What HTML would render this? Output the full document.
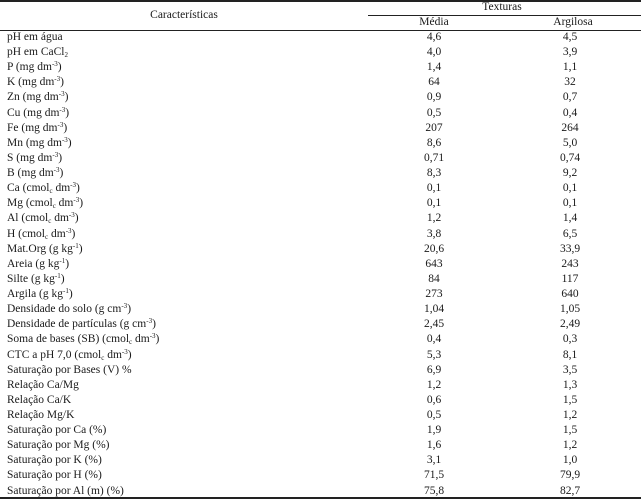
<!DOCTYPE html>
<html><head><meta charset="utf-8"><style>
html,body{margin:0;padding:0;background:#fff;}
body{width:641px;height:500px;position:relative;overflow:hidden;font-family:"Liberation Serif",serif;font-size:11.5px;color:#1a1a1a;}
.l{position:absolute;left:0;background:#222;}
.r{position:absolute;left:0;width:641px;height:15.12px;line-height:15.12px;white-space:nowrap;}
.c0{position:absolute;left:7px;}
.c1{position:absolute;left:384px;width:100px;text-align:center;}
.c2{position:absolute;left:520px;width:100px;text-align:center;}
sup,sub{font-size:7px;line-height:0;}
sup{vertical-align:4px;}
sub{vertical-align:-2px;}
.h{position:absolute;white-space:nowrap;text-align:center;}
</style></head><body>
<div class="l" style="top:0;width:641px;height:1.5px;"></div>
<div class="l" style="top:14.5px;left:368px;width:273px;height:1px;"></div>
<div class="l" style="top:29.5px;width:641px;height:1px;"></div>
<div class="l" style="top:497px;width:641px;height:2px;"></div>
<div class="h" style="left:84px;width:200px;top:7px;line-height:16px;">Características</div>
<div class="h" style="left:452px;width:100px;top:0;line-height:15px;">Texturas</div>
<div class="h" style="left:384px;width:100px;top:15px;line-height:15px;">Média</div>
<div class="h" style="left:523px;width:100px;top:15px;line-height:15px;">Argilosa</div>

<div class="r" style="top:30px"><span class="c0">pH em água</span><span class="c1">4,6</span><span class="c2">4,5</span></div>
<div class="r" style="top:45.12px"><span class="c0">pH em CaCl<sub>2</sub></span><span class="c1">4,0</span><span class="c2">3,9</span></div>
<div class="r" style="top:60.24px"><span class="c0">P (mg dm<sup>-3</sup>)</span><span class="c1">1,4</span><span class="c2">1,1</span></div>
<div class="r" style="top:75.36px"><span class="c0">K (mg dm<sup>-3</sup>)</span><span class="c1">64</span><span class="c2">32</span></div>
<div class="r" style="top:90.48px"><span class="c0">Zn (mg dm<sup>-3</sup>)</span><span class="c1">0,9</span><span class="c2">0,7</span></div>
<div class="r" style="top:105.6px"><span class="c0">Cu (mg dm<sup>-3</sup>)</span><span class="c1">0,5</span><span class="c2">0,4</span></div>
<div class="r" style="top:120.72px"><span class="c0">Fe (mg dm<sup>-3</sup>)</span><span class="c1">207</span><span class="c2">264</span></div>
<div class="r" style="top:135.84px"><span class="c0">Mn (mg dm<sup>-3</sup>)</span><span class="c1">8,6</span><span class="c2">5,0</span></div>
<div class="r" style="top:150.96px"><span class="c0">S (mg dm<sup>-3</sup>)</span><span class="c1">0,71</span><span class="c2">0,74</span></div>
<div class="r" style="top:166.08px"><span class="c0">B (mg dm<sup>-3</sup>)</span><span class="c1">8,3</span><span class="c2">9,2</span></div>
<div class="r" style="top:181.2px"><span class="c0">Ca (cmol<sub>c</sub> dm<sup>-3</sup>)</span><span class="c1">0,1</span><span class="c2">0,1</span></div>
<div class="r" style="top:196.32px"><span class="c0">Mg (cmol<sub>c</sub> dm<sup>-3</sup>)</span><span class="c1">0,1</span><span class="c2">0,1</span></div>
<div class="r" style="top:211.44px"><span class="c0">Al (cmol<sub>c</sub> dm<sup>-3</sup>)</span><span class="c1">1,2</span><span class="c2">1,4</span></div>
<div class="r" style="top:226.56px"><span class="c0">H (cmol<sub>c</sub> dm<sup>-3</sup>)</span><span class="c1">3,8</span><span class="c2">6,5</span></div>
<div class="r" style="top:241.68px"><span class="c0">Mat.Org (g kg<sup>-1</sup>)</span><span class="c1">20,6</span><span class="c2">33,9</span></div>
<div class="r" style="top:256.8px"><span class="c0">Areia (g kg<sup>-1</sup>)</span><span class="c1">643</span><span class="c2">243</span></div>
<div class="r" style="top:271.92px"><span class="c0">Silte (g kg<sup>-1</sup>)</span><span class="c1">84</span><span class="c2">117</span></div>
<div class="r" style="top:287.04px"><span class="c0">Argila (g kg<sup>-1</sup>)</span><span class="c1">273</span><span class="c2">640</span></div>
<div class="r" style="top:302.16px"><span class="c0">Densidade do solo (g cm<sup>-3</sup>)</span><span class="c1">1,04</span><span class="c2">1,05</span></div>
<div class="r" style="top:317.28px"><span class="c0">Densidade de partículas (g cm<sup>-3</sup>)</span><span class="c1">2,45</span><span class="c2">2,49</span></div>
<div class="r" style="top:332.4px"><span class="c0">Soma de bases (SB) (cmol<sub>c</sub> dm<sup>-3</sup>)</span><span class="c1">0,4</span><span class="c2">0,3</span></div>
<div class="r" style="top:347.52px"><span class="c0">CTC a pH 7,0 (cmol<sub>c</sub> dm<sup>-3</sup>)</span><span class="c1">5,3</span><span class="c2">8,1</span></div>
<div class="r" style="top:362.64px"><span class="c0">Saturação por Bases (V) %</span><span class="c1">6,9</span><span class="c2">3,5</span></div>
<div class="r" style="top:377.76px"><span class="c0">Relação Ca/Mg</span><span class="c1">1,2</span><span class="c2">1,3</span></div>
<div class="r" style="top:392.88px"><span class="c0">Relação Ca/K</span><span class="c1">0,6</span><span class="c2">1,5</span></div>
<div class="r" style="top:408px"><span class="c0">Relação Mg/K</span><span class="c1">0,5</span><span class="c2">1,2</span></div>
<div class="r" style="top:423.12px"><span class="c0">Saturação por Ca (%)</span><span class="c1">1,9</span><span class="c2">1,5</span></div>
<div class="r" style="top:438.24px"><span class="c0">Saturação por Mg (%)</span><span class="c1">1,6</span><span class="c2">1,2</span></div>
<div class="r" style="top:453.36px"><span class="c0">Saturação por K (%)</span><span class="c1">3,1</span><span class="c2">1,0</span></div>
<div class="r" style="top:468.48px"><span class="c0">Saturação por H (%)</span><span class="c1">71,5</span><span class="c2">79,9</span></div>
<div class="r" style="top:483.6px"><span class="c0">Saturação por Al (m) (%)</span><span class="c1">75,8</span><span class="c2">82,7</span></div>
</body></html>
